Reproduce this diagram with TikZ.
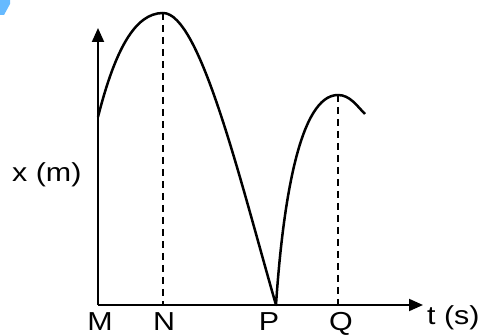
\documentclass[tikz,border=0pt]{standalone}
\usepackage{fontspec}
\setmainfont[FakeStretch=1.17]{Liberation Sans}
\usetikzlibrary{arrows.meta}
\begin{document}
\begin{tikzpicture}[x=1pt,y=-1pt,
  axis/.style={line width=2pt,-{Triangle[length=14pt,width=12pt]}},
  curve/.style={line width=2.5pt,line join=round},
  guide/.style={line width=1.8pt,dash pattern=on 7pt off 5pt},
  lbl/.style={inner sep=0pt,font=\fontsize{26}{30}\selectfont}]
\useasboundingbox (0,0) rectangle (483,336);
% watermark fragment
\fill[blue!45!cyan!60!white] (0,0) -- (10,0) -- (10,4) -- (4,15) -- (0,15) -- cycle;
% coordinates
\coordinate (O) at (98,305);
\coordinate (Ytop) at (98,28);
\coordinate (Xend) at (423,305);
\coordinate (S) at (98,117);
\coordinate (Npk) at (163,13);
\coordinate (Nft) at (163,305);
\coordinate (Ppt) at (276,305);
\coordinate (Qpk) at (338,95);
\coordinate (Qft) at (338,305);
\coordinate (E) at (365,114);
% guides
\draw[guide] (Npk) -- (Nft);
\draw[guide] (Qpk) -- (Qft);
% axes
\draw[axis] (O) -- (Ytop);
\draw[axis] (O) -- (Xend);
% curve
\draw[curve] (S) .. controls (115,50) and (135,13) .. (Npk)
  .. controls (200,13) and (240,180) .. (Ppt)
  .. controls (283,200) and (300,95) .. (Qpk)
  .. controls (350,95) and (357,106) .. (E);
% labels
\node[lbl,anchor=base west] (xl) at (12,182) {x (m)};
\node[lbl,anchor=base west] (tl) at (427,325) {t (s)};
\node[lbl,anchor=base] (M) at (100,331) {M};
\node[lbl,anchor=base] (N) at (164,331) {N};
\node[lbl,anchor=base] (P) at (269,331) {P};
\node[lbl,anchor=base] (Q) at (341,331) {Q};
\end{tikzpicture}
\end{document}
